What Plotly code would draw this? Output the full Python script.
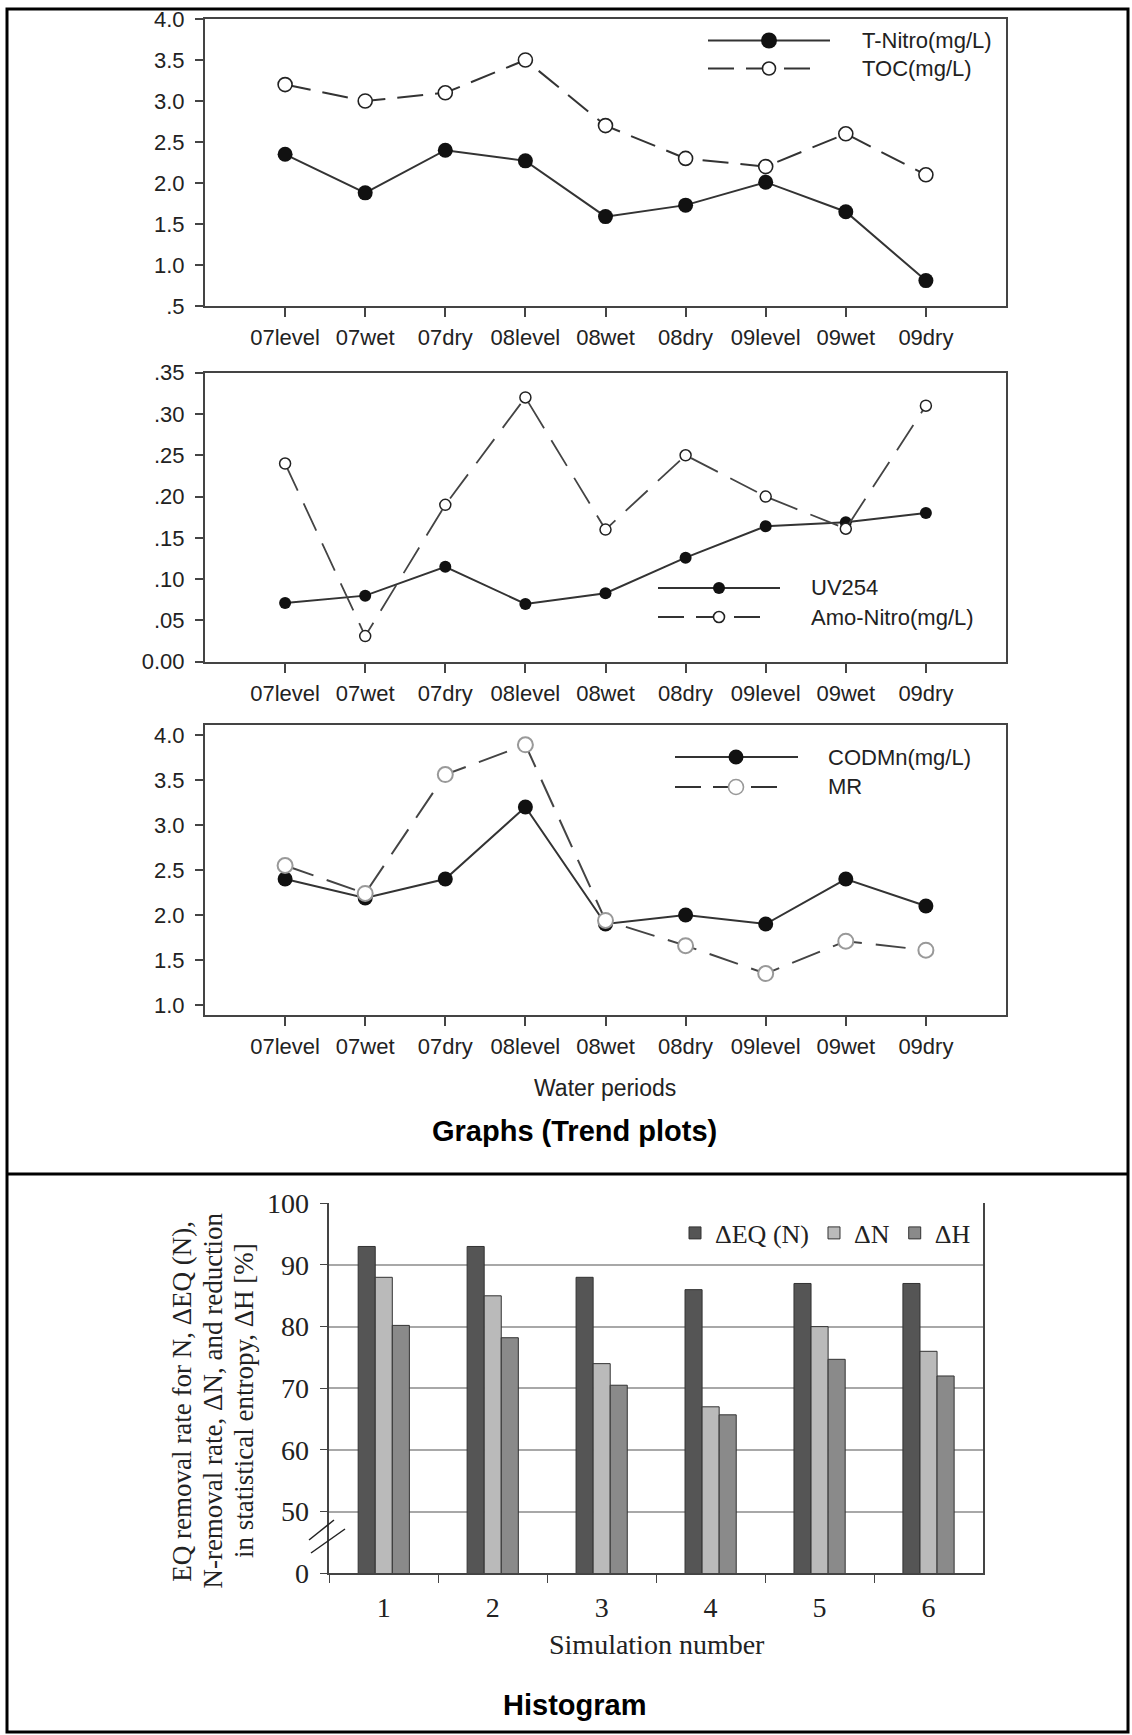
import plotly.graph_objects as go

# ---------------- data ----------------
periods = ["07level", "07wet", "07dry", "08level", "08wet", "08dry", "09level", "09wet", "09dry"]

t_nitro = [2.35, 1.88, 2.40, 2.27, 1.59, 1.73, 2.01, 1.65, 0.81]
toc = [3.2, 3.0, 3.1, 3.5, 2.7, 2.3, 2.2, 2.6, 2.1]

uv254 = [0.071, 0.080, 0.115, 0.070, 0.083, 0.126, 0.164, 0.169, 0.180]
amo_nitro = [0.240, 0.031, 0.190, 0.320, 0.160, 0.250, 0.200, 0.161, 0.310]

codmn = [2.40, 2.19, 2.40, 3.20, 1.90, 2.00, 1.90, 2.40, 2.10]
mr = [2.55, 2.24, 3.56, 3.89, 1.94, 1.66, 1.35, 1.71, 1.61]

p1_ticks = [0.5, 1.0, 1.5, 2.0, 2.5, 3.0, 3.5, 4.0]
p1_ticktext = [".5", "1.0", "1.5", "2.0", "2.5", "3.0", "3.5", "4.0"]
p2_ticks = [0.0, 0.05, 0.10, 0.15, 0.20, 0.25, 0.30, 0.35]
p2_ticktext = ["0.00", ".05", ".10", ".15", ".20", ".25", ".30", ".35"]
p3_ticks = [1.0, 1.5, 2.0, 2.5, 3.0, 3.5, 4.0]
p3_ticktext = ["1.0", "1.5", "2.0", "2.5", "3.0", "3.5", "4.0"]

simulations = ["1", "2", "3", "4", "5", "6"]
delta_eq = [93, 93, 88, 86, 87, 87]
delta_n = [88, 85, 74, 67, 80, 76]
delta_h = [80.2, 78.2, 70.5, 65.7, 74.7, 72.0]

bar_ticks = [40, 50, 60, 70, 80, 90, 100]          # axis is broken: 40 position shows "0"
bar_ticktext = ["0", "50", "60", "70", "80", "90", "100"]

ytitle_lines = ["EQ removal rate for N, ΔEQ (N),",
                "N-removal rate, ΔN, and reduction",
                "in statistical entropy, ΔH [%]"]

# ---------------- helpers ----------------
W, H = 1132, 1735
ARIAL = "Arial, Liberation Sans, sans-serif"
TIMES = "Times New Roman, Liberation Serif, serif"
TF = 22  # trend-plot text size


def fx(p):
    return p / W


def fy(p):
    return 1 - p / H


fig = go.Figure()

# ---------------- trend panels ----------------
fig.add_trace(go.Scatter(x=periods, y=t_nitro, mode="lines+markers", name="T-Nitro(mg/L)",
                         line=dict(color="#333", width=2),
                         marker=dict(size=15, color="#111"),
                         xaxis="x", yaxis="y", showlegend=False))
fig.add_trace(go.Scatter(x=periods, y=toc, mode="lines+markers", name="TOC(mg/L)",
                         line=dict(color="#333", width=2, dash="26px,12px"),
                         marker=dict(size=14, color="white", line=dict(color="#222", width=1.6)),
                         xaxis="x", yaxis="y", showlegend=False))

fig.add_trace(go.Scatter(x=periods, y=uv254, mode="lines+markers", name="UV254",
                         line=dict(color="#333", width=2),
                         marker=dict(size=12, color="#111"),
                         xaxis="x2", yaxis="y2", showlegend=False))
fig.add_trace(go.Scatter(x=periods, y=amo_nitro, mode="lines+markers", name="Amo-Nitro(mg/L)",
                         line=dict(color="#444", width=1.8, dash="30px,14px"),
                         marker=dict(size=11, color="white", line=dict(color="#222", width=1.5)),
                         xaxis="x2", yaxis="y2", showlegend=False))

fig.add_trace(go.Scatter(x=periods, y=codmn, mode="lines+markers", name="CODMn(mg/L)",
                         line=dict(color="#333", width=2),
                         marker=dict(size=15, color="#111"),
                         xaxis="x3", yaxis="y3", showlegend=False))
fig.add_trace(go.Scatter(x=periods, y=mr, mode="lines+markers", name="MR",
                         line=dict(color="#444", width=2, dash="30px,14px"),
                         marker=dict(size=15, color="white", line=dict(color="#999", width=2)),
                         xaxis="x3", yaxis="y3", showlegend=False))

# ---------------- bar chart ----------------
fig.add_trace(go.Bar(x=simulations, y=delta_eq, name="ΔEQ (N)",
                     marker=dict(color="#555555", line=dict(color="#333", width=1)),
                     xaxis="x4", yaxis="y4"))
fig.add_trace(go.Bar(x=simulations, y=delta_n, name="ΔN",
                     marker=dict(color="#bababa", line=dict(color="#333", width=1)),
                     xaxis="x4", yaxis="y4"))
fig.add_trace(go.Bar(x=simulations, y=delta_h, name="ΔH",
                     marker=dict(color="#8a8a8a", line=dict(color="#333", width=1)),
                     xaxis="x4", yaxis="y4"))

trend_x = dict(type="category", range=[-1, 9], showline=True, linecolor="#444", linewidth=2,
               mirror=True, ticks="outside", ticklen=9, tickwidth=2, tickcolor="#444",
               showgrid=False, zeroline=False, ticklabelstandoff=2, automargin=False,
               tickfont=dict(family=ARIAL, size=TF, color="#222"))
trend_y = dict(showline=True, linecolor="#444", linewidth=2, mirror=True, ticks="outside",
               ticklen=8, tickwidth=2, tickcolor="#444", showgrid=False, zeroline=False,
               ticklabelstandoff=6, automargin=False,
               tickfont=dict(family=ARIAL, size=TF, color="#222"))

xdom = [fx(205), fx(1006)]

fig.update_layout(
    width=W, height=H, autosize=False,
    margin=dict(l=0, r=0, t=0, b=0, pad=0, autoexpand=False),
    paper_bgcolor="white", plot_bgcolor="white",
    barmode="group", bargap=0.53, bargroupgap=0,
    xaxis=dict(trend_x, domain=xdom, anchor="y"),
    yaxis=dict(trend_y, domain=[fy(306), fy(19)], range=[0.5, 4.0],
               tickvals=p1_ticks, ticktext=p1_ticktext, anchor="x"),
    xaxis2=dict(trend_x, domain=xdom, anchor="y2"),
    yaxis2=dict(trend_y, domain=[fy(661.7), fy(372.7)], range=[0, 0.35],
                tickvals=p2_ticks, ticktext=p2_ticktext, anchor="x2"),
    xaxis3=dict(trend_x, domain=xdom, anchor="y3"),
    yaxis3=dict(trend_y, domain=[fy(1015), fy(725)], range=[0.89, 4.11],
                tickvals=p3_ticks, ticktext=p3_ticktext, anchor="x3"),
    xaxis4=dict(domain=[fx(329.3), fx(983)], anchor="y4", type="category",
                showline=True, linecolor="#444", linewidth=1.5, mirror=False,
                ticks="outside", tickson="boundaries", ticklen=8, tickcolor="#444",
                showgrid=False, zeroline=False, ticklabelstandoff=8, automargin=False,
                tickfont=dict(family=TIMES, size=28, color="#222")),
    yaxis4=dict(domain=[fy(1573.3), fy(1203.3)], anchor="x4", range=[40, 100],
                tickvals=bar_ticks, ticktext=bar_ticktext,
                showline=True, linecolor="#444", linewidth=1.5, mirror=True,
                ticks="outside", ticklen=8, tickcolor="#444",
                showgrid=True, gridcolor="#a8a8a8", gridwidth=1.5, zeroline=False,
                ticklabelstandoff=5, automargin=False,
                tickfont=dict(family=TIMES, size=28, color="#222")),
    legend=dict(orientation="h", x=fx(976), xanchor="right", y=fy(1233), yanchor="middle",
                font=dict(family=TIMES, size=26, color="#222"), bgcolor="rgba(0,0,0,0)",
                itemwidth=30, traceorder="normal"),
)

shapes = []
annotations = []

# outer frame and divider
shapes.append(dict(type="rect", xref="paper", yref="paper", x0=fx(7), x1=fx(1128),
                   y0=fy(1732), y1=fy(9), line=dict(color="black", width=3)))
shapes.append(dict(type="line", xref="paper", yref="paper", x0=fx(7), x1=fx(1128),
                   y0=fy(1174), y1=fy(1174), line=dict(color="black", width=3)))


# trend legends (drawn as keys)
def legend_entry(xl, xr, ym, xm, txt_x, text, dashed, filled, size, edge="#222", dash="26px,12px"):
    shapes.append(dict(type="line", xref="paper", yref="paper", x0=fx(xl), x1=fx(xr),
                       y0=fy(ym), y1=fy(ym),
                       line=dict(color="#333", width=2, dash=dash if dashed else "solid")))
    r = size / 2
    shapes.append(dict(type="circle", xref="paper", yref="paper",
                       x0=fx(xm - r), x1=fx(xm + r), y0=fy(ym + r), y1=fy(ym - r),
                       fillcolor="#111" if filled else "white",
                       line=dict(color="#111" if filled else edge, width=1.6 if not filled else 0)))
    annotations.append(dict(xref="paper", yref="paper", x=fx(txt_x), y=fy(ym), text=text,
                            showarrow=False, xanchor="left", yanchor="middle",
                            font=dict(family=ARIAL, size=TF, color="#222")))


legend_entry(708, 830, 40.5, 769, 860, "T-Nitro(mg/L)", False, True, 16)
legend_entry(708, 818, 68.5, 769, 860, "TOC(mg/L)", True, False, 13)
legend_entry(658, 780, 588, 719, 809, "UV254", False, True, 12)
legend_entry(658, 768, 617, 719, 809, "Amo-Nitro(mg/L)", True, False, 11)
legend_entry(675, 798, 757, 736, 826, "CODMn(mg/L)", False, True, 15)
legend_entry(675, 786, 787, 736, 826, "MR", True, False, 15, edge="#999")

# axis-break marks on the histogram's y axis
shapes.append(dict(type="line", xref="paper", yref="paper", x0=fx(309), x1=fx(334),
                   y0=fy(1540), y1=fy(1520), line=dict(color="#222", width=1.5)))
shapes.append(dict(type="line", xref="paper", yref="paper", x0=fx(311), x1=fx(345),
                   y0=fy(1553), y1=fy(1529), line=dict(color="#222", width=1.5)))

# titles
annotations.append(dict(xref="paper", yref="paper", x=fx(605), y=fy(1088), text="Water periods",
                        showarrow=False, xanchor="center", yanchor="middle",
                        font=dict(family=ARIAL, size=23, color="#222")))
annotations.append(dict(xref="paper", yref="paper", x=fx(575), y=fy(1131),
                        text="<b>Graphs (Trend plots)</b>", showarrow=False,
                        xanchor="center", yanchor="middle",
                        font=dict(family=ARIAL, size=29, color="black")))
annotations.append(dict(xref="paper", yref="paper", x=fx(657), y=fy(1644), text="Simulation number",
                        showarrow=False, xanchor="center", yanchor="middle",
                        font=dict(family=TIMES, size=28, color="#222")))
for xc, line_txt in zip([181.7, 212.6, 244], ytitle_lines):
    annotations.append(dict(xref="paper", yref="paper", x=fx(xc), y=fy(1401), text=line_txt,
                            showarrow=False, xanchor="center", yanchor="middle", textangle=-90,
                            font=dict(family=TIMES, size=27, color="#222")))
annotations.append(dict(xref="paper", yref="paper", x=fx(575), y=fy(1705), text="<b>Histogram</b>",
                        showarrow=False, xanchor="center", yanchor="middle",
                        font=dict(family=ARIAL, size=29, color="black")))

fig.update_layout(shapes=shapes, annotations=annotations)

fig.write_html("out.html", config={"displayModeBar": False},
               post_script="document.body.style.margin='0';document.body.style.overflow='hidden';")
